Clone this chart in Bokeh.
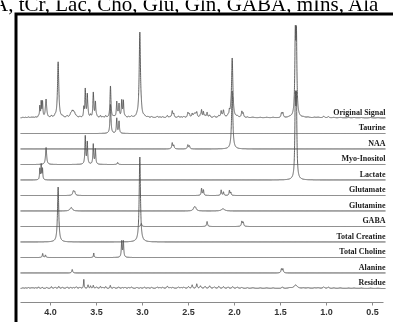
import numpy as np
from bokeh.plotting import figure
from bokeh.models import Range1d, LinearAxis, FixedTicker
from bokeh.core.properties import value
from bokeh.embed import file_html
from bokeh.resources import INLINE

# ---------------- data ----------------
tick_values = [4.0, 3.5, 3.0, 2.5, 2.0, 1.5, 1.0, 0.5]
tick_labels = ["4.0", "3.5", "3.0", "2.5", "2.0", "1.5", "1.0", "0.5"]

title_text = "A, tCr, Lac, Cho, Glu, Gln, GABA, mIns, Ala"

trace_names = ["Original Signal", "Taurine", "NAA", "Myo-Inositol", "Lactate",
               "Glutamate", "Glutamine", "GABA", "Total Creatine",
               "Total Choline", "Alanine", "Residue"]

# peak tables of each fitted component: position (ppm), height, half-width (ppm)
tau_ppm = [3.348, 3.280, 3.255]
tau_amp = [29, 15, 12]
tau_w = [0.006, 0.005, 0.005]

naa_ppm = [2.025, 2.677, 2.660, 2.507, 2.490]
naa_amp = [58, 6, 3.5, 4, 3]
naa_w = [0.008, 0.006, 0.006, 0.006, 0.006]

mins_ppm = [4.048, 3.622, 3.600, 3.535, 3.512, 3.270]
mins_amp = [17, 28, 22, 20, 15, 2]
mins_w = [0.007, 0.005, 0.005, 0.005, 0.005, 0.006]

lac_ppm = [4.116, 4.101, 4.087, 1.339, 1.327]
lac_amp = [11, 15, 11, 74, 74]
lac_w = [0.004, 0.004, 0.004, 0.006, 0.006]

glu_ppm = [3.752, 3.738, 2.358, 2.338, 2.145, 2.120, 2.055, 2.040]
glu_amp = [4, 3.5, 7, 5.5, 5.5, 3.5, 5, 3]
glu_w = [0.008, 0.008, 0.005, 0.005, 0.005, 0.005, 0.005, 0.005]

gln_ppm = [3.775, 2.438, 2.425, 2.125]
gln_amp = [3.5, 2.8, 2.8, 2.2]
gln_w = [0.015, 0.012, 0.012, 0.02]

gaba_ppm = [3.013, 2.298, 1.920, 1.905]
gaba_amp = [3, 5, 5, 4]
gaba_w = [0.006, 0.006, 0.006, 0.006]

tcr_ppm = [3.917, 3.029]
tcr_amp = [55, 85]
tcr_w = [0.008, 0.008]

tcho_ppm = [4.085, 4.055, 3.530, 3.226, 3.208]
tcho_amp = [4, 2.5, 4.5, 16, 16]
tcho_w = [0.005, 0.005, 0.004, 0.005, 0.005]

ala_ppm = [3.764, 1.490, 1.474]
ala_amp = [3.5, 4, 4]
ala_w = [0.006, 0.006, 0.006]

res_ppm = [4.30, 4.27, 4.24, 4.21, 4.19, 4.16, 4.13, 4.09, 4.04, 3.99, 3.95,
           3.91, 3.87, 3.82, 3.78, 3.75, 3.72, 3.68, 3.638, 3.592, 3.565,
           3.535, 3.50, 3.457, 3.43, 3.40, 3.35, 3.31, 3.26, 3.22, 3.19, 3.15,
           3.12, 3.06, 3.02, 2.98, 2.94, 2.90, 2.84, 2.81, 2.78, 2.73, 2.70,
           2.67, 2.61, 2.58, 2.55, 2.50, 2.46, 2.41, 2.37, 2.32, 2.27, 2.22,
           2.17, 2.12, 2.07, 2.02, 1.97, 1.92, 1.86, 1.80, 1.72, 1.65, 1.58,
           1.48, 1.40, 1.335, 1.25, 1.20, 1.13, 1.09, 1.03, 0.98, 0.92, 0.85,
           0.76, 0.70, 0.62, 0.52, 0.44]
res_amp = [0.6, 0.5, 0.8, 0.5, 0.6, 0.7, 1.5, 1.2, 1.0, 1.8, 1.3,
           2.0, 1.2, 1.5, 1.0, 0.8, 1.6, 1.2, 9.0, 3.5, 2.5,
           3.0, 1.5, 2.0, 1.0, 1.8, 3.0, 1.2, 1.5, 0.8, 1.0, 0.8,
           1.3, 1.0, 0.7, 1.2, 0.8, 1.0, 1.3, 0.8, 1.0, 2.2, 0.8,
           1.0, 1.4, 0.8, 1.2, 1.8, 3.5, 4.5, 2.5, 2.0, 2.5, 1.5,
           2.0, 1.8, 1.5, 1.8, 1.3, 1.0, 0.7, 0.6, 0.5, 0.5, 0.5,
           1.5, 0.6, 3.5, 0.5, 0.6, 0.5, 0.6, 1.5, 1.2, 0.5, 0.5,
           0.4, 0.4, 0.4, 0.4, 0.3]
res_w = [0.01, 0.008, 0.01, 0.008, 0.01, 0.008, 0.006, 0.006, 0.008, 0.006, 0.008,
         0.006, 0.008, 0.008, 0.008, 0.008, 0.008, 0.008, 0.004, 0.005, 0.005,
         0.005, 0.008, 0.006, 0.008, 0.006, 0.005, 0.008, 0.008, 0.008, 0.01, 0.008,
         0.01, 0.01, 0.008, 0.01, 0.008, 0.01, 0.01, 0.008, 0.01, 0.008, 0.008,
         0.01, 0.01, 0.008, 0.01, 0.008, 0.006, 0.006, 0.008, 0.008, 0.008, 0.01,
         0.008, 0.008, 0.008, 0.008, 0.01, 0.01, 0.01, 0.02, 0.015, 0.02, 0.015,
         0.008, 0.02, 0.02, 0.015, 0.02, 0.015, 0.02, 0.01, 0.01, 0.015, 0.02,
         0.015, 0.02, 0.015, 0.015, 0.015]

# ---------------- layout constants (pixels) ----------------
W, H = 393, 322
PX_PER_PPM = 92.0
X_PPM4 = 50.0               # pixel column of 4.0 ppm
TRACE_LEFT_PX, TRACE_RIGHT_PX = 20.0, 385.0
BASE0_PX, STEP_PX = 117.5, 15.5
AXIS_PX = 301.5


def px_to_ppm(px):
    return 4.0 - (px - X_PPM4) / PX_PER_PPM


def py_to_y(py):
    return H - py


x = np.linspace(px_to_ppm(TRACE_LEFT_PX), px_to_ppm(TRACE_RIGHT_PX), 8000)


def spectrum(ppm, amp, w):
    y = np.zeros_like(x)
    for c, a, hw in zip(ppm, amp, w):
        y += a / (1.0 + ((x - c) / hw) ** 2)
    return y


components = [
    spectrum(tau_ppm, tau_amp, tau_w),
    spectrum(naa_ppm, naa_amp, naa_w),
    spectrum(mins_ppm, mins_amp, mins_w),
    spectrum(lac_ppm, lac_amp, lac_w),
    spectrum(glu_ppm, glu_amp, glu_w),
    spectrum(gln_ppm, gln_amp, gln_w),
    spectrum(gaba_ppm, gaba_amp, gaba_w),
    spectrum(tcr_ppm, tcr_amp, tcr_w),
    spectrum(tcho_ppm, tcho_amp, tcho_w),
    spectrum(ala_ppm, ala_amp, ala_w),
    spectrum(res_ppm, res_amp, res_w),
]
original = np.sum(components, axis=0)
traces = [original] + components

# ---------------- figure ----------------
p = figure(width=W, height=H, output_backend="svg", toolbar_location=None,
           x_axis_location=None, y_axis_location=None,
           x_range=Range1d(px_to_ppm(0), px_to_ppm(W)),
           y_range=Range1d(0, H), min_border=0,
           background_fill_color="white", border_fill_color="white",
           outline_line_color=None)
p.styles = {"position": "fixed", "top": "0px", "left": "0px"}
p.grid.grid_line_color = None

# frame (left + top thick border)
p.line(x=[px_to_ppm(15.5), px_to_ppm(15.5), px_to_ppm(W + 10)],
       y=[py_to_y(H + 10), py_to_y(13.5), py_to_y(13.5)],
       line_color="black", line_width=3, line_join="miter")

# caption above the frame, cut by the top edge as in the source image
p.text(x=[px_to_ppm(-7.4)], y=[py_to_y(3.0)], text=[title_text],
       text_font=value("Liberation Serif"), text_font_size="21px",
       text_color="black", text_align="left", text_baseline="alphabetic")

for i, (name, tr) in enumerate(zip(trace_names, traces)):
    base = py_to_y(BASE0_PX + STEP_PX * i)
    p.line(x=x, y=tr + base, line_color="#505050", line_width=0.9)
    p.text(x=[px_to_ppm(TRACE_RIGHT_PX)], y=[base + 5.6], text=[name],
           text_font=value("Liberation Serif"), text_font_style="bold",
           text_font_size="8px", text_color="#1a1a1a",
           text_align="right", text_baseline="alphabetic")

ax = LinearAxis(fixed_location=py_to_y(AXIS_PX),
                ticker=FixedTicker(ticks=tick_values),
                major_label_overrides=dict(zip(tick_values, tick_labels)),
                bounds=(px_to_ppm(383), px_to_ppm(TRACE_LEFT_PX)),
                axis_line_color="#8a8a8a", axis_line_width=1,
                major_tick_line_color="#8a8a8a", major_tick_out=3, major_tick_in=0,
                minor_tick_line_color=None,
                major_label_text_font="Liberation Sans",
                major_label_text_font_style="bold",
                major_label_text_font_size="9px",
                major_label_text_color="#333333",
                major_label_standoff=4)
p.add_layout(ax, "below")

open("out.html", "w").write(file_html(p, INLINE))
